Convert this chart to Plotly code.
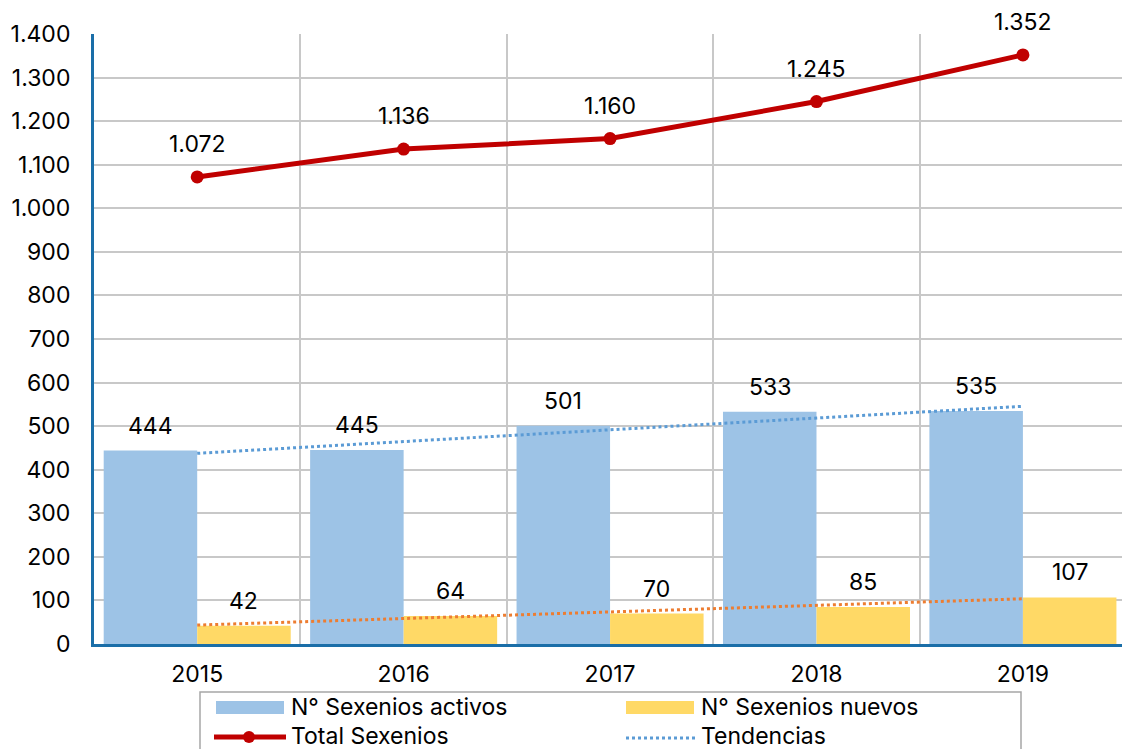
import numpy as np
import plotly.graph_objects as go

years = ["2015", "2016", "2017", "2018", "2019"]
activos = [444, 445, 501, 533, 535]
nuevos = [42, 64, 70, 85, 107]
total = [1072, 1136, 1160, 1245, 1352]
y_ticks = list(range(0, 1401, 100))

FONT = "Inter"
W, H = 1122, 749
ML, MT, MB, MR = 94, 34, 105, 0
PW, PH = W - ML - MR, H - MT - MB

def fx(px):
    return (px - ML) / PW

def fy(py):
    return (H - MB - py) / PH

def fmt(v):
    return f"{v:,}".replace(",", ".")

xi = np.arange(len(years))
def trend(vals):
    k, b = np.polyfit(xi, vals, 1)
    return list(k * xi + b)

fig = go.Figure()
fig.add_trace(go.Bar(x=years, y=activos, name="N° Sexenios activos",
                     marker=dict(color="#9dc3e6", line=dict(width=0))))
fig.add_trace(go.Bar(x=years, y=nuevos, name="N° Sexenios nuevos",
                     marker=dict(color="#ffd966", line=dict(width=0))))
fig.add_trace(go.Scatter(x=years, y=trend(activos), mode="lines",
                         line=dict(color="#5b9bd5", width=3, dash="dot"), name="Tendencias"))
fig.add_trace(go.Scatter(x=years, y=trend(nuevos), mode="lines",
                         line=dict(color="#ed7d31", width=3, dash="dot"), showlegend=False))
fig.add_trace(go.Scatter(x=years, y=total, mode="lines+markers", name="Total Sexenios",
                         line=dict(color="#c00000", width=5),
                         marker=dict(color="#c00000", size=13)))

ann = []
for i, v in enumerate(activos):
    ann.append(dict(x=i, y=v, xref="x", yref="y", text=fmt(v),
                    showarrow=False, xshift=-46.7, yshift=25, yanchor="middle"))
for i, v in enumerate(nuevos):
    ann.append(dict(x=i, y=v, xref="x", yref="y", text=fmt(v),
                    showarrow=False, xshift=46.7, yshift=25, yanchor="middle"))
for i, v in enumerate(total):
    ann.append(dict(x=i, y=v, xref="x", yref="y", text=fmt(v),
                    showarrow=False, yshift=33, yanchor="middle"))

# custom legend
shapes = []
shapes.append(dict(type="rect", xref="paper", yref="paper", x0=fx(200), x1=fx(1021),
                   y0=fy(692), y1=fy(770), line=dict(color="#a6a6a6", width=1.5),
                   fillcolor="white", layer="above"))
shapes.append(dict(type="rect", xref="paper", yref="paper", x0=fx(216), x1=fx(284),
                   y0=fy(701), y1=fy(714), line=dict(width=0), fillcolor="#9dc3e6"))
shapes.append(dict(type="rect", xref="paper", yref="paper", x0=fx(626), x1=fx(694),
                   y0=fy(701), y1=fy(714), line=dict(width=0), fillcolor="#ffd966"))
shapes.append(dict(type="line", xref="paper", yref="paper", x0=fx(214), x1=fx(286),
                   y0=fy(737), y1=fy(737), line=dict(color="#c00000", width=5)))
shapes.append(dict(type="circle", xref="paper", yref="paper", x0=fx(243), x1=fx(255),
                   y0=fy(731), y1=fy(743), line=dict(width=0), fillcolor="#c00000"))
shapes.append(dict(type="line", xref="paper", yref="paper", x0=fx(626), x1=fx(695),
                   y0=fy(738), y1=fy(738), line=dict(color="#5b9bd5", width=3, dash="dot")))
for px, py, t in [(291, 707, "N° Sexenios activos"), (701, 707, "N° Sexenios nuevos"),
                  (291, 736, "Total Sexenios"), (701, 736, "Tendencias")]:
    ann.append(dict(x=fx(px), y=fy(py), xref="paper", yref="paper", text=t, showarrow=False,
                    xanchor="left", yanchor="middle", xshift=-2))

fig.update_layout(
    width=W, height=H,
    margin=dict(l=ML, r=MR, t=MT, b=MB, pad=0),
    paper_bgcolor="white", plot_bgcolor="white",
    font=dict(family=FONT, size=23, color="#000000"),
    separators=",.",
    barmode="group", bargap=0.094, bargroupgap=0,
    showlegend=False,
    annotations=ann, shapes=shapes,
)
fig.update_xaxes(type="category", range=[-0.5, 4.48], tickson="boundaries",
                 showgrid=True, gridcolor="#c8c8c8", gridwidth=2,
                 showline=True, linecolor="#1a6ea8", linewidth=3,
                 ticks="", ticklabelstandoff=7, zeroline=False)
fig.update_yaxes(range=[0, 1400], tickvals=y_ticks, tickformat=",d",
                 showgrid=True, gridcolor="#c8c8c8", gridwidth=2,
                 showline=True, linecolor="#1a6ea8", linewidth=3,
                 ticks="", ticklabelstandoff=16, zeroline=False)

fig.write_html("out.html", config={"displayModeBar": False},
               post_script="document.body.style.margin='0';")
